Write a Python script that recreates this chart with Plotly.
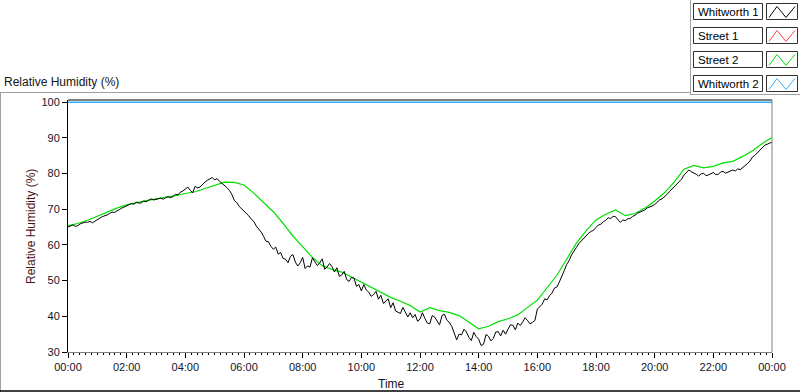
import pandas as pd
import plotly.graph_objects as go

# ---------------- data ----------------
series_names = ["Whitworth 1", "Street 1", "Street 2", "Whitworth 2"]
series_colors = ["#000000", "#ff4040", "#00e000", "#30b0ff"]

# Whitworth 1 : 5-minute samples 00:00 .. 24:00 (one row per hour)
whitworth1 = [
    65.0, 65.3, 65.6, 65.2, 65.4, 65.9, 66.1, 66.4, 66.3, 66.6, 66.2, 66.7,
    67.0, 67.5, 67.9, 68.1, 68.4, 68.8, 69.2, 69.1, 69.6, 69.9, 70.3, 70.6,
    71.0, 71.3, 71.6, 71.4, 72.0, 71.7, 71.8, 72.3, 72.1, 72.5, 72.9, 72.6,
    72.7, 73.0, 73.1, 72.8, 73.3, 73.5, 73.2, 73.6, 74.2, 74.0, 74.8, 75.1,
    75.6, 76.2, 75.3, 74.6, 76.4, 76.0, 76.2, 77.0, 77.6, 78.1, 78.5, 78.9,
    78.2, 78.6, 77.8, 77.3, 76.8, 76.1, 75.3, 74.2, 72.5, 71.9, 70.8, 70.1,
    69.4, 69.0, 68.1, 67.2, 66.6, 65.3, 64.5, 63.6, 62.4, 61.0, 60.9, 59.6,
    58.8, 59.4, 57.4, 57.9, 56.2, 56.0, 55.0, 56.8, 57.3, 55.2, 54.1, 55.0,
    56.5, 53.4, 54.1, 53.8, 56.4, 55.2, 54.2, 55.0, 56.1, 53.2, 53.8, 54.8,
    53.9, 52.4, 53.6, 51.2, 51.6, 52.6, 50.3, 49.8, 50.9, 50.7, 48.4, 48.9,
    47.1, 48.9, 47.4, 46.8, 45.6, 46.1, 47.0, 44.8, 45.9, 43.6, 44.3, 44.9,
    42.4, 43.8, 41.5, 41.1, 40.8, 42.5, 41.2, 39.8, 41.0, 39.6, 40.5, 38.6,
    39.2, 41.0, 39.4, 38.1, 37.9, 40.2, 39.8, 38.6, 37.6, 40.2, 40.6, 38.9,
    38.3, 37.2, 35.2, 33.4, 35.0, 34.8, 36.4, 35.6, 34.1, 33.2, 35.5, 34.3,
    33.6, 31.8, 32.2, 34.9, 34.4, 33.1, 33.8, 35.6, 35.7, 34.5, 36.1, 35.0,
    36.4, 37.6, 37.5, 36.2, 38.1, 37.4, 38.4, 39.6, 38.8, 37.9, 38.3, 38.8,
    42.0, 42.6, 43.4, 44.9, 44.6, 45.8, 46.5, 47.9, 48.2, 49.6, 51.0, 52.8,
    54.5, 55.6, 57.2, 58.1, 59.3, 60.4, 61.2, 61.9, 62.6, 63.3, 63.8, 64.1,
    64.9, 65.6, 65.8, 66.5, 66.9, 67.6, 67.4, 68.0, 67.9, 67.1, 66.3, 67.0,
    66.8, 67.3, 67.4, 68.0, 68.3, 68.9, 69.2, 69.5, 69.8, 70.4, 70.6, 70.9,
    71.3, 72.0, 72.6, 72.9, 73.4, 74.1, 74.9, 75.6, 76.2, 76.8, 77.5, 78.4,
    79.6, 80.4, 81.0, 80.5, 80.2, 79.8, 79.3, 79.9, 80.1, 79.4, 79.6, 80.0,
    80.3, 79.7, 79.8, 80.4, 80.6, 80.1, 80.4, 80.9, 81.0, 80.7, 81.3, 81.1,
    81.6, 82.1, 82.8, 83.5, 84.6, 85.1, 85.8, 86.4, 87.3, 87.9, 88.2, 88.5,
    88.8,
]

# Street 2 : 20-minute samples 00:00 .. 24:00
street2 = [
    65.4, 66.0, 66.9,
    68.0, 69.3, 70.3,
    71.2, 71.9, 72.4,
    72.9, 73.3, 73.8,
    74.4, 74.9, 75.8,
    76.7, 77.6, 77.5,
    76.8, 74.5, 71.8,
    69.3, 66.0, 62.5,
    59.5, 56.5, 54.2,
    53.1, 52.4, 51.0,
    49.6, 48.0, 46.6,
    45.3, 44.2, 43.0,
    41.2, 42.4, 41.6,
    41.1, 40.2, 38.3,
    36.5, 37.2, 38.5,
    39.3, 40.4, 42.5,
    44.5, 48.0, 51.5,
    56.0, 60.5, 64.0,
    67.0, 68.6, 69.8,
    68.2, 68.8, 70.3,
    72.3, 74.6, 77.6,
    81.2, 82.3, 81.6,
    82.0, 83.0, 83.4,
    84.8, 86.4, 88.4,
    90.1,
]

# Street 1 : no samples shown
street1 = []

# Whitworth 2 : pinned at the top of the scale
whitworth2_times = ["2000-01-01 00:00", "2000-01-02 00:00"]
whitworth2 = [100, 100]

y_ticks = [30, 40, 50, 60, 70, 80, 90, 100]

# ---------------- geometry helpers ----------------
W, H = 800, 392
L, R, T, B = 68, 28, 100, 40
PW, PH = W - L - R, H - T - B


def px(x):
    return (x - L) / PW


def py(y):
    return (H - B - y) / PH


t_black = pd.date_range("2000-01-01 00:00", "2000-01-02 00:00", freq="5min")
t_green = pd.date_range("2000-01-01 00:00", "2000-01-02 00:00", freq="20min")

fig = go.Figure()
fig.add_trace(go.Scatter(x=[], y=street1, mode="lines",
                         line=dict(color=series_colors[1], width=1.2), name=series_names[1]))
fig.add_trace(go.Scatter(x=pd.to_datetime(whitworth2_times), y=whitworth2, mode="lines",
                         line=dict(color=series_colors[3], width=1.5), name=series_names[3]))
fig.add_trace(go.Scatter(x=t_green, y=street2, mode="lines",
                         line=dict(color=series_colors[2], width=1.2), name=series_names[2]))
fig.add_trace(go.Scatter(x=t_black, y=whitworth1, mode="lines",
                         line=dict(color=series_colors[0], width=1.0), name=series_names[0]))

FONT = "Liberation Sans"

fig.update_layout(
    width=W, height=H,
    margin=dict(l=L, r=R, t=T, b=B, pad=0),
    paper_bgcolor="white", plot_bgcolor="white",
    showlegend=False,
    hovermode=False,
    font=dict(family=FONT, size=11, color="#141428"),
)

fig.update_xaxes(
    type="date",
    range=["2000-01-01 00:00", "2000-01-02 00:00"],
    tickformat="%H:%M",
    tick0="2000-01-01 00:00", dtick=7200000,
    ticks="outside", ticklen=5, tickcolor="#000000", tickwidth=1,
    minor=dict(dtick=720000, ticks="outside", ticklen=2, tickcolor="#000000", showgrid=False),
    showgrid=False, zeroline=False,
    showline=True, linecolor="#808080", linewidth=1,
    tickfont=dict(family=FONT, size=11, color="#141428"),
)
fig.update_yaxes(
    range=[30, 100.6],
    tickvals=y_ticks,
    ticks="outside", ticklen=5, tickcolor="#000000", tickwidth=1,
    showgrid=False, zeroline=False,
    showline=True, linecolor="#000000", linewidth=1,
    tickfont=dict(family=FONT, size=11, color="#141428"),
)

shapes = []
shapes.append(dict(type="line", xref="paper", yref="paper", x0=0, x1=1, y0=1, y1=1,
                   line=dict(color="#000000", width=1)))
shapes.append(dict(type="line", xref="paper", yref="paper", x0=1, x1=1, y0=0, y1=1,
                   line=dict(color="#808080", width=1)))
gray = "#a0a0a0"
shapes.append(dict(type="line", xref="paper", yref="paper", x0=px(0), x1=px(690), y0=py(92.5), y1=py(92.5),
                   line=dict(color=gray, width=1)))
shapes.append(dict(type="line", xref="paper", yref="paper", x0=px(690.5), x1=px(690.5), y0=py(0), y1=py(94.5),
                   line=dict(color=gray, width=1)))
shapes.append(dict(type="line", xref="paper", yref="paper", x0=px(690), x1=px(800), y0=py(94.5), y1=py(94.5),
                   line=dict(color=gray, width=1)))
shapes.append(dict(type="line", xref="paper", yref="paper", x0=px(0.5), x1=px(0.5), y0=py(92.5), y1=py(392),
                   line=dict(color=gray, width=1)))
shapes.append(dict(type="line", xref="paper", yref="paper", x0=px(0), x1=px(800), y0=py(391), y1=py(391),
                   line=dict(color="#000000", width=1.5)))

annotations = []
legend_tops = [3.5, 27.5, 51.5, 75.5]
for name, color, top in zip(series_names, series_colors, legend_tops):
    bot = top + 16
    shapes.append(dict(type="rect", xref="paper", yref="paper",
                       x0=px(693.5), x1=px(762.5), y0=py(bot), y1=py(top),
                       line=dict(color="#303030", width=1), fillcolor="white"))
    shapes.append(dict(type="rect", xref="paper", yref="paper",
                       x0=px(766.5), x1=px(797.5), y0=py(bot), y1=py(top),
                       line=dict(color="#303030", width=1), fillcolor="white"))
    pts = [(769, bot - 2), (777, top + 3), (786, bot - 2), (795, top + 3)]
    path = "M " + " L ".join(f"{px(x)},{py(y)}" for x, y in pts)
    shapes.append(dict(type="path", xref="paper", yref="paper", path=path,
                       line=dict(color=color, width=1)))
    annotations.append(dict(xref="paper", yref="paper", x=px(696), y=py(top + 8.5),
                            text=name, showarrow=False, xanchor="left", yanchor="middle",
                            font=dict(family=FONT, size=11.5, color="#000000")))

annotations.append(dict(xref="paper", yref="paper", x=px(2), y=py(82), text="Relative Humidity (%)",
                        showarrow=False, xanchor="left", yanchor="middle",
                        font=dict(family=FONT, size=12, color="#141414")))
annotations.append(dict(xref="paper", yref="paper", x=px(31), y=py(227), text="Relative Humidity (%)",
                        showarrow=False, xanchor="center", yanchor="middle", textangle=-90,
                        font=dict(family=FONT, size=12, color="#4a1414")))
annotations.append(dict(xref="paper", yref="paper", x=px(391), y=py(384), text="Time",
                        showarrow=False, xanchor="center", yanchor="middle",
                        font=dict(family=FONT, size=12, color="#141428")))

fig.update_layout(shapes=shapes, annotations=annotations)

fig.write_html("out.html", config={"displayModeBar": False, "staticPlot": True},
               post_script="document.body.style.margin='0';document.body.style.padding='0';")
